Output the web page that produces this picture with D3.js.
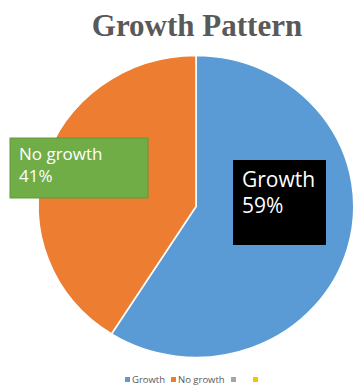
<!DOCTYPE html>
<html>
<head>
<meta charset="utf-8">
<script src="https://cdn.jsdelivr.net/npm/d3@7"></script>
<style>
  body { margin: 0; background: #fff; }
  svg { display: block; }
</style>
</head>
<body>
<div id="chart"></div>
<script>
const categories = ["Growth", "No growth", "", ""];
const values = [59, 41, 0, 0];
const colors = ["#5B9BD5", "#ED7D31", "#A5A5A5", "#FFC000"];

const width = 354, height = 385;
const cx = 196, cy = 206.5, r = 151;

const svg = d3.select("#chart").append("svg")
  .attr("width", width)
  .attr("height", height);

// title
svg.append("text")
  .attr("x", 197)
  .attr("y", 36)
  .attr("text-anchor", "middle")
  .attr("font-family", "Liberation Serif, Times New Roman, serif")
  .attr("font-weight", "bold")
  .attr("font-size", 31)
  .attr("fill", "#595959")
  .text("Growth Pattern");

const pie = d3.pie().sort(null).value(d => d.value);
const arcs = pie(categories.map((c, i) => ({ name: c, value: values[i], color: colors[i] })));
const arc = d3.arc().innerRadius(0).outerRadius(r);

// the original picture is slightly stretched horizontally
const g = svg.append("g").attr("transform", `translate(${cx},${cy}) scale(1.045,1)`);

g.selectAll("path")
  .data(arcs.filter(d => d.data.value > 0))
  .enter()
  .append("path")
  .attr("d", arc)
  .attr("fill", d => d.data.color)
  .attr("stroke", "#fff")
  .attr("stroke-width", 1.5);

// data labels (boxes positioned as in the original)
const labelBoxes = [
  { i: 0, x: 233, y: 160, w: 93, h: 85, fill: "#000000", size: 21, tx: 242, y1: 187, y2: 213 },
  { i: 1, x: 10, y: 138, w: 138, h: 60, fill: "#70AD47", size: 17, tx: 19, y1: 160, y2: 182 }
];

labelBoxes.forEach(b => {
  svg.append("rect")
    .attr("x", b.x).attr("y", b.y)
    .attr("width", b.w).attr("height", b.h)
    .attr("fill", b.fill)
    .attr("stroke", b.fill === "#70AD47" ? "#5e9a3a" : "none");
  const t = svg.append("text")
    .attr("font-family", "Open Sans, Noto Sans, sans-serif")
    .attr("font-size", b.size)
    .attr("fill", "#fff");
  t.append("tspan").attr("x", b.tx).attr("y", b.y1).text(categories[b.i]);
  t.append("tspan").attr("x", b.tx).attr("y", b.y2).text(values[b.i] + "%");
});

// legend
const legend = svg.append("g").attr("transform", "translate(0,380)");
const items = [
  { x: 125 },
  { x: 171 },
  { x: 231 },
  { x: 253 }
];
items.forEach((it, i) => {
  legend.append("rect")
    .attr("x", it.x).attr("y", -3)
    .attr("width", 5).attr("height", 5)
    .attr("fill", colors[i]);
  legend.append("text")
    .attr("x", it.x + 7).attr("y", 3)
    .attr("font-family", "Open Sans, Noto Sans, sans-serif")
    .attr("font-size", 9.5)
    .attr("fill", "#595959")
    .text(categories[i]);
});
</script>
</body>
</html>
